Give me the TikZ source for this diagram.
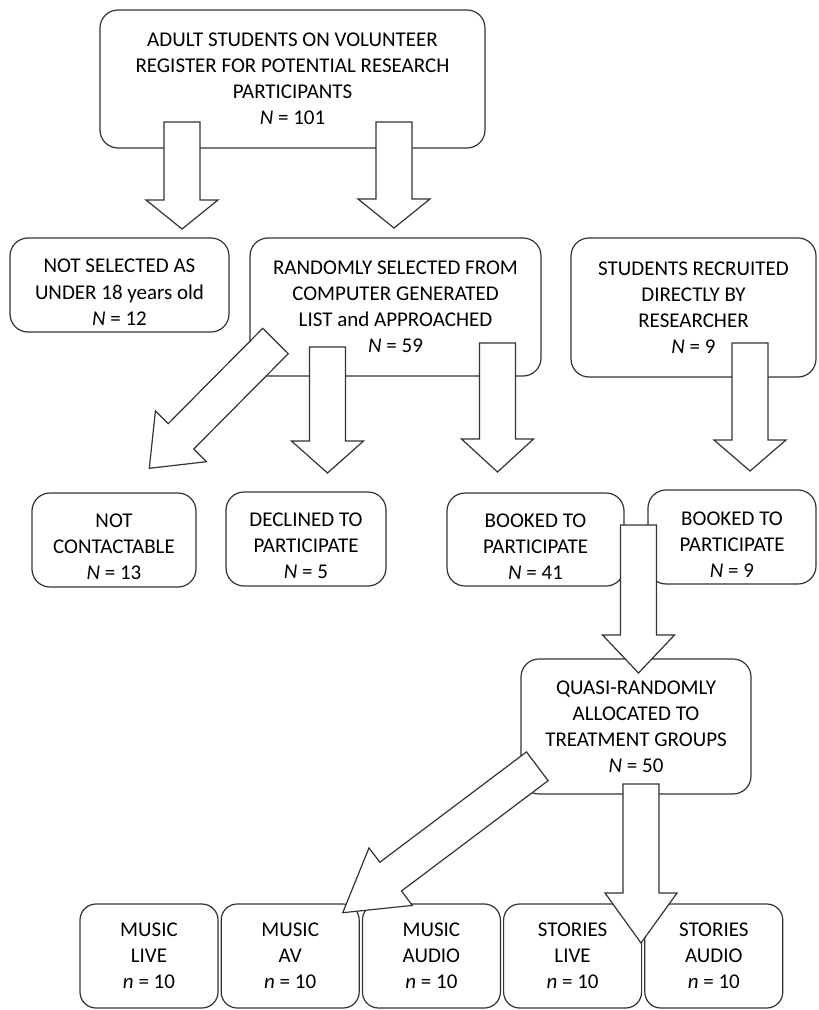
\documentclass[tikz,border=0pt]{standalone}
\usepackage{fontspec}
\setmainfont{Carlito}
\usetikzlibrary{calc,positioning}
\newcommand{\topgap}{\rule{0pt}{14pt}}

\begin{document}
\begin{tikzpicture}[
  x=0.5pt, y=-0.5pt,
  box/.style={draw=black!80, line width=0.6pt, fill=white, rounded corners=9pt, align=center, inner sep=0pt, font=\fontsize{10.5}{13}\selectfont},
  group/.style={box, minimum width=69pt, minimum height=52pt, rounded corners=8pt},
  blockarrow/.style={draw=black!80, fill=white, line width=0.6pt, line join=miter,
    to path={let \p1=($(\tikztotarget)!#1!(\tikztostart)$) in
      ($(\tikztostart)!9pt!90:(\tikztotarget)$) -- ($(\p1)!9pt!90:(\tikztotarget)$)
      -- ($(\p1)!18pt!90:(\tikztotarget)$) -- (\tikztotarget)
      -- ($(\p1)!18pt!-90:(\tikztotarget)$) -- ($(\p1)!9pt!-90:(\tikztotarget)$)
      -- ($(\tikztostart)!9pt!-90:(\tikztotarget)$) -- cycle}},
  blockarrow/.default=16pt,
]
\useasboundingbox (0,0) rectangle (818,1010);
\node[box, minimum width=192.5pt, minimum height=69pt] (register) at (292.5,79) {ADULT STUDENTS ON VOLUNTEER\\REGISTER FOR POTENTIAL RESEARCH\\PARTICIPANTS\\\textit{N} = 101};
\node[box, minimum width=109.5pt, minimum height=47pt] (under) at (119.5,285) {\topgap NOT SELECTED AS\\UNDER 18 years old\\\textit{N} = 12};
\node[box, minimum width=145.5pt, minimum height=69pt] (random) at (395.5,307) {RANDOMLY SELECTED FROM\\COMPUTER GENERATED\\LIST and APPROACHED\\\textit{N} = 59};
\node[box, minimum width=122.5pt, minimum height=69.5pt] (direct) at (693.5,307.5) {STUDENTS RECRUITED\\DIRECTLY BY\\RESEARCHER\\\textit{N} = 9};
\node[box, minimum width=82pt, minimum height=47pt] (nocontact) at (114,540) {\topgap NOT\\CONTACTABLE\\\textit{N} = 13};
\node[box, minimum width=80pt, minimum height=47pt] (declined) at (306,539) {\topgap DECLINED TO\\PARTICIPATE\\\textit{N} = 5};
\node[box, minimum width=88.5pt, minimum height=46.5pt] (booked) at (535.5,539.5) {\topgap BOOKED TO\\PARTICIPATE\\\textit{N} = 41};
\node[box, minimum width=84pt, minimum height=47pt] (bookeddirect) at (732,537) {\topgap BOOKED TO\\PARTICIPATE\\\textit{N} = 9};
\node[box, minimum width=115pt, minimum height=67.5pt] (alloc) at (636,726.5) {QUASI-RANDOMLY\\ALLOCATED TO\\TREATMENT GROUPS\\\textit{N} = 50};
\node[group] (mlive) at (149,956) {MUSIC\\LIVE\\\textit{n} = 10};
\node[group, right=1pt of mlive] (mav) {MUSIC\\AV\\\textit{n} = 10};
\node[group, right=1pt of mav] (maudio) {MUSIC\\AUDIO\\\textit{n} = 10};
\node[group, right=1pt of maudio] (slive) {STORIES\\LIVE\\\textit{n} = 10};
\node[group, right=1pt of slive] (saudio) {STORIES\\AUDIO\\\textit{n} = 10};

\coordinate (u1) at (182,122); \coordinate (u2) at (182,229);
\coordinate (r1) at (394,122); \coordinate (r2) at (394,228);
\coordinate (n1) at (275.5,341); \coordinate (n2) at (149.3,468.3);
\coordinate (d1) at (327.5,347); \coordinate (d2) at (327.5,473);
\coordinate (b1) at (497.5,343); \coordinate (b2) at (497.5,472);
\coordinate (s1) at (750,343); \coordinate (s2) at (750,471);
\coordinate (q1) at (638.5,525); \coordinate (q2) at (638.5,673);
\coordinate (g1) at (537.3,766.3); \coordinate (g2) at (342.7,912.7);
\coordinate (h1) at (641,784); \coordinate (h2) at (641,943);
\draw[blockarrow=14.5pt] (u1) to (u2);
\draw[blockarrow=14.5pt] (r1) to (r2);
\draw[blockarrow=22.5pt] (n1) to (n2);
\draw[blockarrow] (d1) to (d2);
\draw[blockarrow=16.5pt] (b1) to (b2);
\draw[blockarrow=15.5pt] (s1) to (s2);
\draw[blockarrow=19pt] (q1) to (q2);
\draw[blockarrow=30pt] (g1) to (g2);
\draw[blockarrow=25pt] (h1) to (h2);
\end{tikzpicture}
\end{document}
